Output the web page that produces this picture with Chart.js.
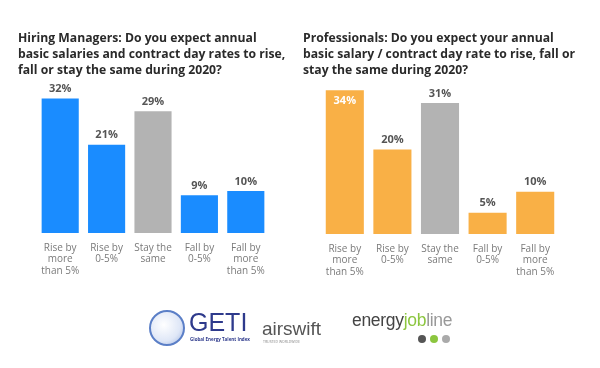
<!DOCTYPE html>
<html><head><meta charset="utf-8">
<script src="https://cdn.jsdelivr.net/npm/chart.js@4/dist/chart.umd.min.js"></script>
<style>
html,body{margin:0;padding:0;background:#fff;width:600px;height:368px;overflow:hidden;font-family:"Open Sans",sans-serif;}
canvas{position:absolute;top:0;}
.title{position:absolute;top:30px;font-weight:700;font-size:12.2px;line-height:16.2px;color:#2a2a2a;white-space:nowrap;}
.logo{position:absolute;white-space:nowrap;}
.dot{position:absolute;width:8px;height:8px;border-radius:50%;}
</style></head><body>
<canvas id="c1" width="300" height="368" style="left:0"></canvas>
<canvas id="c2" width="300" height="368" style="left:300px"></canvas>
<div class="title" style="left:18px">Hiring Managers: Do you expect annual<br>basic salaries and contract day rates to rise,<br>fall or stay the same during 2020?</div>
<div class="title" style="left:303px">Professionals: Do you expect your annual<br>basic salary / contract day rate to rise, fall or<br>stay the same during 2020?</div>
<div class="logo" style="left:149px;top:310px;width:32px;height:32px;border-radius:50%;border:2px solid #5b7fc7;background:radial-gradient(circle at 40% 40%,#fff 0,#dfe7f7 60%,#9fb4e0 100%);"></div>
<div class="logo" style="left:189px;top:308px;font-family:'Liberation Sans',sans-serif;font-size:25px;color:#2e3a8c;">GETI</div>
<div class="logo" style="left:190px;top:336px;font-size:4.5px;color:#2e3a8c;font-weight:700;">Global Energy Talent Index</div>
<div class="logo" style="left:262px;top:318px;font-family:'Liberation Sans',sans-serif;font-size:19px;color:#555;">airswift</div>
<div class="logo" style="left:263px;top:339px;font-size:3.5px;color:#888;">TRUSTED WORLDWIDE</div>
<div class="logo" style="left:352px;top:310px;font-family:'Liberation Sans',sans-serif;font-size:17.5px;color:#444;letter-spacing:-0.3px;">energy<span style="color:#8cc63f">job</span><span style="color:#999">line</span></div>
<div class="dot" style="left:418px;top:335px;background:#555;"></div>
<div class="dot" style="left:430px;top:335px;background:#8cc63f;"></div>
<div class="dot" style="left:442px;top:335px;background:#aaa;"></div>
<script>
const categories = [["Rise by","more","than 5%"],["Rise by","0-5%"],["Stay the","same"],["Fall by","0-5%"],["Fall by","more","than 5%"]];
const managersValues = [32, 21, 29, 9, 10];
const professionalsValues = [34, 20, 31, 5, 10];
const managersColors = ["#1a8cff","#1a8cff","#b3b3b3","#1a8cff","#1a8cff"];
const professionalsColors = ["#f9b046","#f9b046","#b3b3b3","#f9b046","#f9b046"];

const valueLabels = {
  id:'valueLabels',
  afterDatasetsDraw(chart, args, opts){
    const ctx = chart.ctx;
    const meta = chart.getDatasetMeta(0);
    const data = chart.data.datasets[0].data;
    ctx.save();
    ctx.font = '700 11px "Open Sans"';
    ctx.textAlign = 'center';
    ctx.textBaseline = 'middle';
    meta.data.forEach((bar,i)=>{
      const inside = opts.insideIndex === i;
      ctx.fillStyle = inside ? '#ffffff' : '#555555';
      const y = inside ? bar.y + 11 : bar.y - 9.5;
      ctx.fillText(data[i] + '%', bar.x, y);
    });
    ctx.restore();
  }
};

function makeChart(id, values, colors, pad, insideIndex){
  return new Chart(document.getElementById(id), {
    type:'bar',
    data:{labels:categories, datasets:[{data:values, backgroundColor:colors, borderWidth:0, barPercentage:0.8, categoryPercentage:1}]},
    options:{
      responsive:false, animation:false, devicePixelRatio:1,
      layout:{padding:pad},
      plugins:{legend:{display:false}, tooltip:{enabled:false}, valueLabels:{insideIndex:insideIndex}},
      scales:{
        x:{grid:{display:false, drawTicks:false}, border:{display:false},
           ticks:{padding:9, color:'#7a7a7a', font:{family:'"Open Sans"', size:10, lineHeight:1.15}, maxRotation:0, autoSkip:false},
           afterFit:(s)=>{s.height = 55;}},
        y:{display:false, min:0, max:35}
      }
    },
    plugins:[valueLabels]
  });
}
makeChart('c1', managersValues, managersColors, {left:37, right:31, top:86, bottom:80}, -1);
makeChart('c2', professionalsValues, professionalsColors, {left:21, right:41, top:86, bottom:79}, 0);
</script>
</body></html>
